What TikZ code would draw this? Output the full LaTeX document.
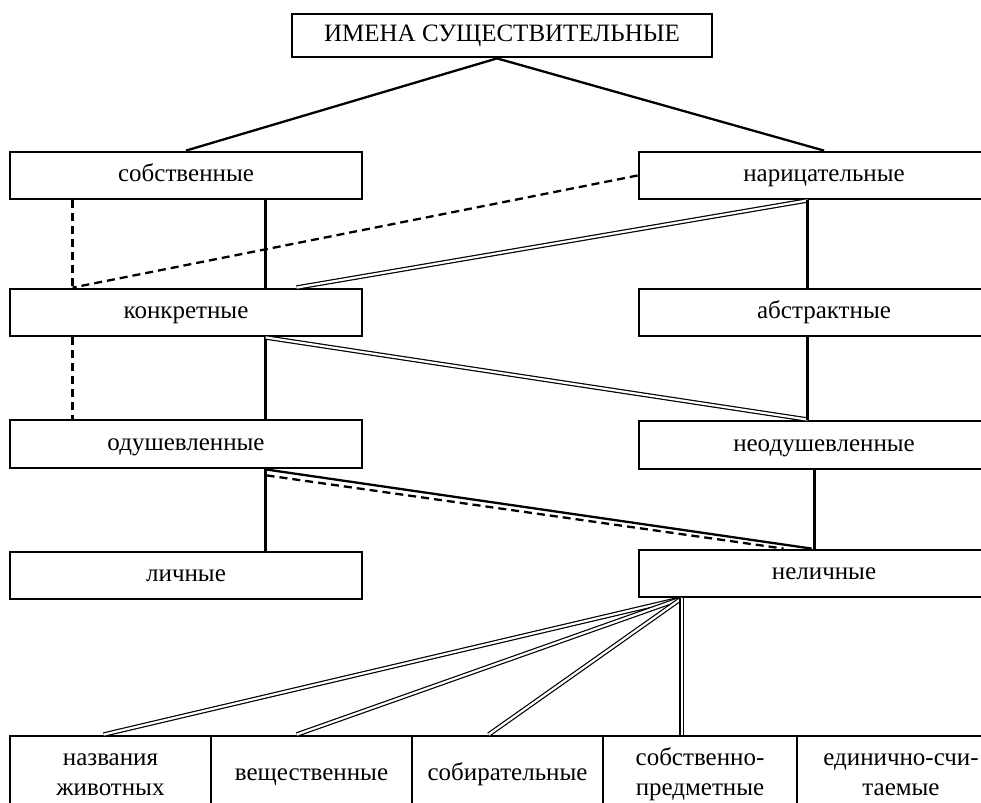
\documentclass[tikz,border=0pt]{standalone}
\usepackage{fontspec}
\setmainfont{Liberation Serif}
\begin{document}
\begin{tikzpicture}[x=1pt,y=-1pt,
  box/.style={draw,line width=2.8pt,rectangle,inner sep=0pt,align=center,
    font=\fontsize{25}{30}\selectfont},
  solidline/.style={line width=2.3pt},
  dashline/.style={line width=2.3pt,dash pattern=on 8pt off 5pt},
  dblline/.style={line width=1.2pt,double,double distance=2.2pt}]
\useasboundingbox (0,0) rectangle (981,802);
% nodes
\node[box,minimum width=420pt,minimum height=43pt] (top) at (502,35.5) {\strut ИМЕНА СУЩЕСТВИТЕЛЬНЫЕ};
\node[box,minimum width=352pt,minimum height=47pt] (sob) at (186,175.5) {\strut собственные};
\node[box,minimum width=370pt,minimum height=47pt] (nar) at (824,175.5) {\strut нарицательные};
\node[box,minimum width=352pt,minimum height=47pt] (konk) at (186,312.5) {\strut конкретные};
\node[box,minimum width=370pt,minimum height=47pt] (abstr) at (824,312.5) {\strut абстрактные};
\node[box,minimum width=352pt,minimum height=48pt] (odush) at (186,444) {\strut одушевленные};
\node[box,minimum width=370pt,minimum height=48pt] (neod) at (824,445) {\strut неодушевленные};
\node[box,minimum width=352pt,minimum height=47pt] (lich) at (186,575.5) {\strut личные};
\node[box,minimum width=370pt,minimum height=47pt] (nelich) at (824,573.5) {\strut неличные};
\node[box,minimum width=201pt,minimum height=76pt] (b1) at (110.5,774) {\strut названия\\животных\strut};
\node[box,minimum width=201pt,minimum height=76pt] (b2) at (311.5,774) {\strut вещественные};
\node[box,minimum width=191pt,minimum height=76pt] (b3) at (507.5,774) {\strut собирательные};
\node[box,minimum width=194pt,minimum height=76pt] (b4) at (700,774) {\strut собственно-\\предметные\strut};
\node[box,minimum width=208pt,minimum height=76pt] (b5) at (901,774) {\strut единично-счи-\\таемые\strut};
% connectors
\draw[solidline] ([xshift=-5pt]top.south) -- (sob.north);
\draw[solidline] ([xshift=-5pt]top.south) -- (nar.north);
\draw[dashline] ([xshift=64pt]sob.south west) -- ([xshift=64pt]konk.north west);
\draw[solidline] ([xshift=257pt]sob.south west) -- ([xshift=257pt]konk.north west);
\draw[dashline] (nar.west) -- ([xshift=64pt]konk.north west);
\draw[dblline] ([xshift=170pt]nar.south west) -- ([xshift=288pt]konk.north west);
\draw[solidline] ([xshift=170pt]nar.south west) -- ([xshift=170pt]abstr.north west);
\draw[dashline] ([xshift=64pt]konk.south west) -- ([xshift=64pt]odush.north west);
\draw[solidline] ([xshift=257pt]konk.south west) -- ([xshift=257pt]odush.north west);
\draw[dblline] ([xshift=257pt]konk.south west) -- ([xshift=170pt]neod.north west);
\draw[solidline] ([xshift=170pt]abstr.south west) -- ([xshift=170pt]neod.north west);
\draw[solidline] ([xshift=257pt]odush.south west) -- ([xshift=257pt]lich.north west);
\draw[solidline] ([xshift=257pt]odush.south west) -- ([xshift=174pt]nelich.north west);
\draw[dashline] ([xshift=258pt,yshift=-6pt]odush.south west) -- ([xshift=146pt]nelich.north west);
\draw[solidline] ([xshift=177pt]neod.south west) -- ([xshift=177pt]nelich.north west);
\draw[dblline] ([xshift=44pt]nelich.south west) -- ([xshift=95pt]b1.north west);
\draw[dblline] ([xshift=44pt]nelich.south west) -- ([xshift=87pt]b2.north west);
\draw[dblline] ([xshift=44pt]nelich.south west) -- ([xshift=78pt]b3.north west);
\draw[dblline] ([xshift=44pt]nelich.south west) -- ([xshift=80pt]b4.north west);
\end{tikzpicture}
\end{document}
